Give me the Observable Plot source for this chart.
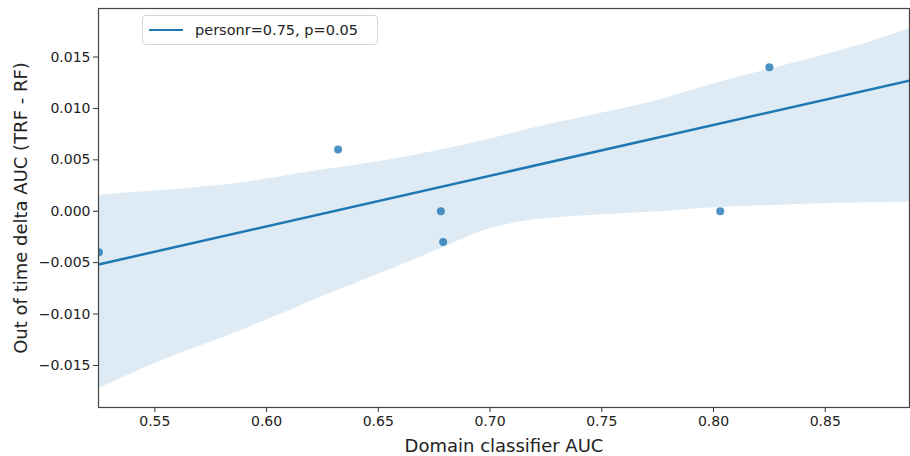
<!DOCTYPE html>
<html>
<head>
<meta charset="utf-8">
<script src="https://cdn.jsdelivr.net/npm/d3@7"></script>
<script src="https://cdn.jsdelivr.net/npm/@observablehq/plot@0.6"></script>
<style>
  html, body { margin: 0; padding: 0; background: #fff; }
  #wrap { position: relative; width: 910px; height: 456px; font-family: "DejaVu Sans", sans-serif; }
  #legend { position: absolute; left: 142px; top: 15px; width: 236px; height: 30px; border: 1px solid #d6d6d6; border-radius: 4px; background: rgba(255,255,255,0.8); display: flex; align-items: center; font-size: 14.5px; color: #222; box-sizing: border-box; }
  #legend .sw { width: 34px; height: 0; border-top: 2.5px solid #1f77b4; margin-left: 6px; margin-right: 12px; }
</style>
</head>
<body>
<div id="wrap"><div id="legend"><span class="sw"></span><span>personr=0.75, p=0.05</span></div></div>
<script>
// scatter points
const pointX = [0.525, 0.632, 0.678, 0.679, 0.803, 0.825];
const pointY = [-0.004, 0.006, 0.000, -0.003, 0.000, 0.014];
// regression line endpoints
const lineX = [0.5248, 0.8877];
const lineY = [-0.00518, 0.01271];
// confidence band edges
const bandX     = [0.5248, 0.553, 0.59, 0.62, 0.658, 0.678, 0.70, 0.715, 0.745, 0.772, 0.80, 0.826, 0.857, 0.872, 0.8877];
const bandUpper = [0.00158, 0.00201, 0.00280, 0.00385, 0.00510, 0.00595, 0.00702, 0.00785, 0.00931, 0.01060, 0.01238, 0.01387, 0.01563, 0.01661, 0.01774];
const bandLower = [-0.01725, -0.01455, -0.01148, -0.00875, -0.00545, -0.00363, -0.00170, -0.00100, -0.00042, -0.00010, 0.00035, 0.00055, 0.00077, 0.00083, 0.00088];
// ticks
const xTicks = [0.55, 0.60, 0.65, 0.70, 0.75, 0.80, 0.85];
const yTicks = [-0.015, -0.010, -0.005, 0.000, 0.005, 0.010, 0.015];
const xLabel = "Domain classifier AUC";
const yLabel = "Out of time delta AUC (TRF - RF)";

const points = pointX.map((x, i) => ({x, y: pointY[i]}));
const line = lineX.map((x, i) => ({x, y: lineY[i]}));
const band = bandX.map((x, i) => ({x, y1: bandLower[i], y2: bandUpper[i]}));
const color = "#1f77b4";

const chart = Plot.plot({
  width: 910,
  height: 456,
  marginLeft: 98,
  marginRight: 1,
  marginTop: 8,
  marginBottom: 49,
  style: {fontFamily: "DejaVu Sans, sans-serif", fontSize: "14px", color: "#222", background: "white"},
  x: {domain: [0.5248, 0.8877]},
  y: {domain: [-0.01909, 0.01972]},
  marks: [
    Plot.areaY(band, {x: "x", y1: "y1", y2: "y2", fill: color, fillOpacity: 0.15, curve: "monotone-x", clip: true}),
    Plot.dot(points, {x: "x", y: "y", r: 4, fill: color, fillOpacity: 0.8, clip: true}),
    Plot.line(line, {x: "x", y: "y", stroke: color, strokeWidth: 2.5, clip: true}),
    Plot.frame({stroke: "#444", strokeWidth: 1.2}),
    Plot.axisX({ticks: xTicks, tickFormat: d3.format(".2f"), tickSize: 5, tickPadding: 4, label: null, stroke: "#333"}),
    Plot.axisY({ticks: yTicks, tickFormat: d3.format(".3f"), tickSize: 5, tickPadding: 3, label: null, stroke: "#333"}),
    Plot.text([xLabel], {frameAnchor: "bottom", dy: 44, fontSize: 18, fill: "#222"}),
    Plot.text([yLabel], {frameAnchor: "left", dx: -77, rotate: -90, textAnchor: "middle", lineAnchor: "middle", fontSize: 18, fill: "#222"})
  ]
});
chart.style.position = "absolute";
chart.style.left = "0";
chart.style.top = "0";
const wrap = document.getElementById("wrap");
wrap.insertBefore(chart, wrap.firstChild);
</script>
</body>
</html>
